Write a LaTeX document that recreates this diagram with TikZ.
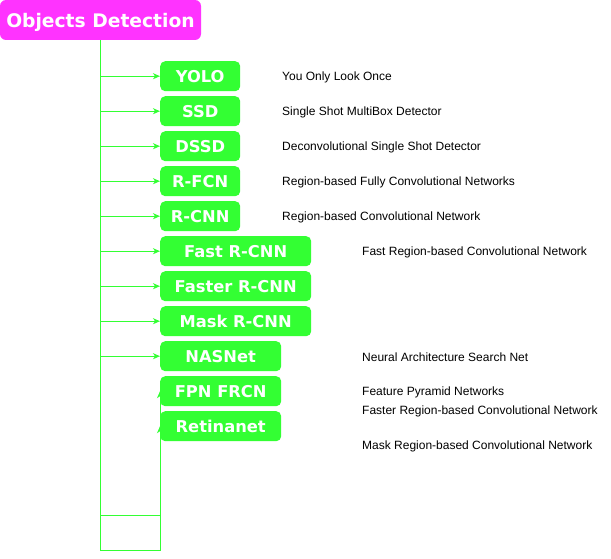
\documentclass[tikz,border=0pt]{standalone}
\usepackage{fontspec}
\setmainfont{Liberation Sans}
\newfontfamily\vfont{DejaVu Sans}
\usetikzlibrary{arrows.meta,backgrounds}
\definecolor{gr}{HTML}{33FF33}
\definecolor{mg}{HTML}{FF33FF}
\begin{document}
\begin{tikzpicture}[x=1pt,y=-1pt,
  algo/.style={rounded corners=5pt,fill=gr,text=white,inner sep=0pt,
    font=\vfont\bfseries\fontsize{16.3}{18}\selectfont,minimum height=30pt,anchor=north west,
    text depth=0pt,text height=12pt},
  titlebox/.style={rounded corners=6pt,fill=mg,text=white,inner sep=0pt,
    font=\vfont\bfseries\fontsize{18.7}{21}\selectfont,minimum height=40pt,minimum width=201pt,
    text depth=0pt},
  desc/.style={anchor=west,inner sep=0pt,font=\fontsize{12}{14}\selectfont},
  arr/.style={draw=gr,line width=1pt,-{Stealth[length=7pt,width=6pt,inset=2pt]}}]
\useasboundingbox (0,0) rectangle (611,559);
\node[titlebox] (title) at (100.5,20) {Objects Detection};
\node[algo,minimum width=80pt] (yolo) at (160,61) {YOLO};
\node[algo,minimum width=80pt] (ssd) at (160,96) {SSD};
\node[algo,minimum width=80pt] (dssd) at (160,131) {DSSD};
\node[algo,minimum width=80pt] (rfcn) at (160,166) {R-FCN};
\node[algo,minimum width=80pt] (rcnn) at (160,201) {R-CNN};
\node[algo,minimum width=151pt] (fast) at (160,236) {Fast R-CNN};
\node[algo,minimum width=151pt] (faster) at (160,271) {Faster R-CNN};
\node[algo,minimum width=151pt] (mask) at (160,306) {Mask R-CNN};
\node[algo,minimum width=121pt] (nas) at (160,341) {NASNet};
\node[algo,minimum width=121pt] (fpn) at (160,376) {FPN FRCN};
\node[algo,minimum width=121pt] (reti) at (160,411) {Retinanet};
\coordinate (b1) at (100.5,550);
\coordinate (b2) at (100.5,515);
\begin{scope}[on background layer]
\foreach \n in {yolo,ssd,dssd,rfcn,rcnn,fast,faster,mask,nas}
  \draw[arr] (title.south) |- (\n.west);
\draw[arr] (title.south) -- (b1) -| (fpn.west);
\draw[arr] (title.south) -- (b2) -| (reti.west);
\end{scope}
\node[desc] (d1) at (282,77) {You Only Look Once};
\node[desc] (d2) at (282,112) {Single Shot MultiBox Detector};
\node[desc] (d3) at (282,147) {Deconvolutional Single Shot Detector};
\node[desc] (d4) at (282,182) {Region-based Fully Convolutional Networks};
\node[desc] (d5) at (282,217) {Region-based Convolutional Network};
\node[desc] (d6) at (362,252) {Fast Region-based Convolutional Network};
\node[desc] (d7) at (362,357) {Neural Architecture Search Net};
\node[desc] (d8) at (362,392) {Feature Pyramid Networks};
\node[desc] (d9) at (362,411) {Faster Region-based Convolutional Network};
\node[desc] (d10) at (362,446) {Mask Region-based Convolutional Network};
\end{tikzpicture}
\end{document}
